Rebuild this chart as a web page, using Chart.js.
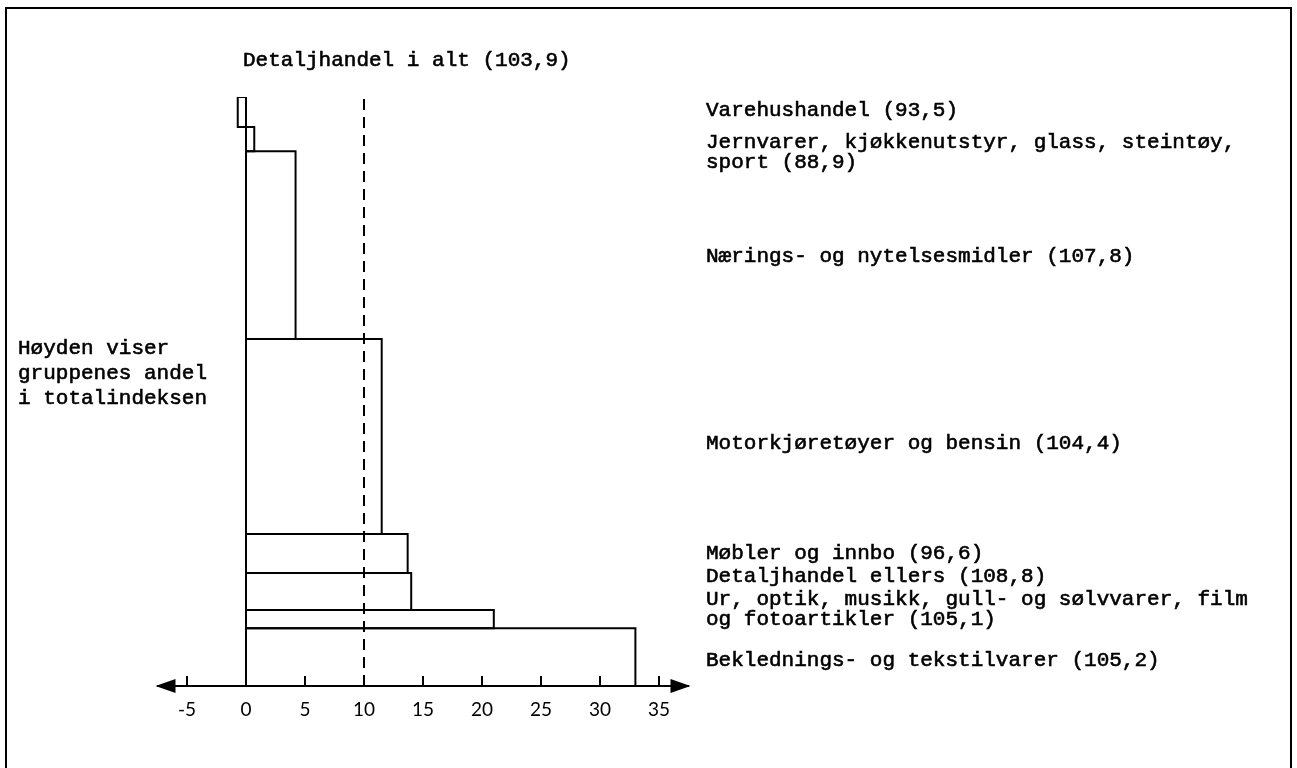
<!DOCTYPE html>
<html>
<head>
<meta charset="utf-8">
<script src="https://cdn.jsdelivr.net/npm/chart.js@4.4.1/dist/chart.umd.min.js"></script>
<style>
  html, body { margin: 0; padding: 0; background: #fff; }
  #chart-1 { display: block; }
</style>
</head>
<body>
<canvas id="chart-1" width="1297" height="768"></canvas>
<script>
// Groups from top to bottom
var categoryLines = [
  ["Varehushandel"],
  ["Jernvarer, kjøkkenutstyr, glass, steintøy,", "sport"],
  ["Nærings- og nytelsesmidler"],
  ["Motorkjøretøyer og bensin"],
  ["Møbler og innbo"],
  ["Detaljhandel ellers"],
  ["Ur, optik, musikk, gull- og sølvvarer, film", "og fotoartikler"],
  ["Beklednings- og tekstilvarer"]
];
var indexValues = [93.5, 88.9, 107.8, 104.4, 96.6, 108.8, 105.1, 105.2];
// bar length (x axis)
var changeValues = [-0.7, 0.7, 4.2, 11.5, 13.7, 14.0, 21.0, 33.0];
// bar height = share of total index (%)
var shareValues = [5.1, 4.1, 31.9, 33.1, 6.6, 6.3, 3.1, 9.8];
var totalLabel = "Detaljhandel i alt";
var totalIndex = 103.9;
var totalChange = 10;
var xTicks = [-5, 0, 5, 10, 15, 20, 25, 30, 35];
var noteLines = ["Høyden viser", "gruppenes andel", "i totalindeksen"];

function fmt(v) {
  return "(" + v.toFixed(1).replace(".", ",") + ")";
}

// Build one closed outline per group, stacked from the top
var datasets = [];
var yTop = 100;
shareValues.forEach(function (share, i) {
  var yBottom = yTop - share;
  var v = changeValues[i];
  datasets.push({
    data: [
      { x: 0, y: yTop }, { x: v, y: yTop },
      { x: v, y: yBottom }, { x: 0, y: yBottom }, { x: 0, y: yTop }
    ],
    showLine: true,
    borderColor: "#000",
    borderWidth: 2,
    borderJoinStyle: "miter",
    pointRadius: 0,
    fill: false,
    tension: 0
  });
  yTop = yBottom;
});

// dashed line for the total
datasets.push({
  data: [{ x: totalChange, y: 0 }, { x: totalChange, y: 100 }],
  showLine: true,
  borderColor: "#000",
  borderWidth: 2,
  borderDash: [11, 7],
  pointRadius: 0,
  fill: false
});

var labelY = [110, [142, 162], 256, 443, 553, 576, [599, 619], 660];
var textFont = '21px "Liberation Mono", "DejaVu Sans Mono", monospace';

function typeText(ctx, text, x, y) {
  // slightly heavier strokes, like the typewriter original
  ctx.fillText(text, x, y);
  ctx.strokeText(text, x, y);
}

var decorations = {
  id: "decorations",
  beforeDraw: function (chart) {
    var ctx = chart.ctx;
    ctx.save();
    ctx.fillStyle = "#fff";
    ctx.fillRect(0, 0, chart.width, chart.height);
    // frame
    ctx.strokeStyle = "#000";
    ctx.lineWidth = 2;
    ctx.beginPath();
    ctx.moveTo(6, 780);
    ctx.lineTo(6, 8);
    ctx.lineTo(1291, 8);
    ctx.lineTo(1291, 780);
    ctx.stroke();
    ctx.restore();
  },
  afterDraw: function (chart) {
    var ctx = chart.ctx;
    var area = chart.chartArea;
    var xs = chart.scales.x;
    ctx.save();
    ctx.strokeStyle = "#000";
    ctx.fillStyle = "#000";
    ctx.lineWidth = 2;
    // upward tick marks
    xs.ticks.forEach(function (t) {
      var px = xs.getPixelForValue(t.value);
      ctx.beginPath();
      ctx.moveTo(px, area.bottom);
      ctx.lineTo(px, area.bottom - 10);
      ctx.stroke();
    });
    // arrow heads
    ctx.beginPath();
    ctx.moveTo(area.left - 2, area.bottom);
    ctx.lineTo(area.left + 18, area.bottom - 7);
    ctx.lineTo(area.left + 18, area.bottom + 7);
    ctx.closePath();
    ctx.fill();
    ctx.beginPath();
    ctx.moveTo(area.right + 2, area.bottom);
    ctx.lineTo(area.right - 18, area.bottom - 7);
    ctx.lineTo(area.right - 18, area.bottom + 7);
    ctx.closePath();
    ctx.fill();

    // texts
    ctx.font = textFont;
    ctx.textBaseline = "middle";
    ctx.textAlign = "left";
    ctx.lineWidth = 0.6;
    typeText(ctx, totalLabel + " " + fmt(totalIndex), 243, 60);
    categoryLines.forEach(function (lines, i) {
      var ys = Array.isArray(labelY[i]) ? labelY[i] : [labelY[i]];
      lines.forEach(function (line, j) {
        var text = j === lines.length - 1 ? line + " " + fmt(indexValues[i]) : line;
        typeText(ctx, text, 706, ys[j]);
      });
    });
    noteLines.forEach(function (line, j) {
      typeText(ctx, line, 18, 348 + j * 25);
    });
    ctx.restore();
  }
};

const ctx1 = document.getElementById("chart-1").getContext("2d");
const myChart = new Chart(ctx1, {
  type: "scatter",
  data: { datasets: datasets },
  options: {
    responsive: false,
    animation: false,
    layout: { padding: { left: 157.5, right: 608.5, top: 97, bottom: 0 } },
    plugins: { legend: { display: false }, tooltip: { enabled: false } },
    scales: {
      x: {
        type: "linear",
        min: -7.5,
        max: 37.5,
        afterBuildTicks: function (scale) {
          scale.ticks = xTicks.map(function (v) { return { value: v }; });
        },
        afterFit: function (scale) { scale.height = 82; },
        grid: { display: false, drawTicks: false },
        border: { display: true, color: "#000", width: 2 },
        ticks: {
          color: "#000",
          padding: 12,
          font: { family: 'Lato, "Open Sans", sans-serif', size: 19 }
        }
      },
      y: {
        type: "linear",
        min: 0,
        max: 100,
        display: false
      }
    }
  },
  plugins: [decorations]
});
</script>
</body>
</html>
